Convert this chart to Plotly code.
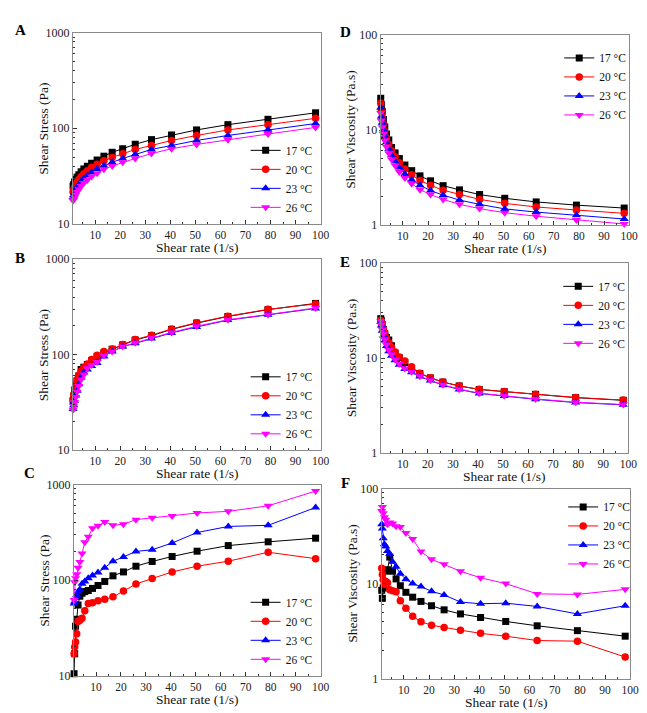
import plotly.graph_objects as go

W, H = 647, 713

# ---------------- data ----------------
shear_rate = [1.2, 1.45, 1.8, 2.25, 2.8, 3.5, 4.4, 5.5, 6.9, 8.6, 10.8, 13.5, 16.8,
              21, 26, 32.5, 40.5, 50.5, 63, 79, 98]
temps = ["17 °C", "20 °C", "23 °C", "26 °C"]

# Panel A: shear stress (Pa)
A_17 = [24.8, 25.7, 27.4, 29, 30.8, 32.6, 35, 37.5, 40, 43, 46.5, 51, 56, 61, 68, 76, 85, 96, 109, 124, 145]
A_20 = [21.5, 22.8, 24.2, 25.7, 27.3, 29, 31, 33.5, 36, 39, 42, 45.7, 49.5, 54, 60, 66, 74.5, 84, 96, 109, 127]
A_23 = [19, 20, 21.3, 22.7, 24.2, 25.8, 27.7, 29.8, 32, 34.5, 37.5, 40.6, 44, 48.3, 53, 60, 66, 74.5, 84, 96.5, 112]
A_26 = [17.5, 18, 19, 20.2, 21.5, 23, 24.8, 26.7, 28.8, 31.2, 33.9, 37.3, 40.3, 44, 48.3, 54.3, 61, 67.7, 76, 87, 102]

# Panel D: shear viscosity (Pa.s)
D_17 = [21.4, 18.3, 15.6, 12.8, 10.7, 9.0, 7.8, 6.5, 5.7, 4.97, 4.25, 3.71, 3.27, 2.90, 2.58, 2.33, 2.08, 1.90, 1.74, 1.61, 1.50]
D_20 = [19, 16, 13.5, 11.4, 9.6, 8.2, 7.0, 6.0, 5.2, 4.5, 3.86, 3.35, 2.93, 2.60, 2.31, 2.08, 1.85, 1.68, 1.54, 1.43, 1.32]
D_23 = [17, 13.8, 11.8, 10.1, 8.6, 7.4, 6.3, 5.4, 4.65, 4.0, 3.43, 2.97, 2.60, 2.29, 2.05, 1.82, 1.64, 1.47, 1.36, 1.26, 1.15]
D_26 = [15, 12.4, 10.6, 9.0, 7.7, 6.6, 5.65, 4.85, 4.2, 3.6, 3.10, 2.70, 2.34, 2.08, 1.85, 1.64, 1.48, 1.34, 1.23, 1.12, 1.02]

# Panel B: shear stress (Pa)
B_17 = [33, 37, 42, 47, 53, 60, 70, 74, 79, 87, 96, 104, 114, 126.5, 142.5, 158, 184, 214, 251, 296, 344]
B_20 = [34, 38, 44, 49, 55, 61, 67.5, 73, 80, 89, 98.5, 108, 115, 128, 144, 160, 186, 216, 253, 298, 340]
B_23 = [27, 29.5, 33, 37.5, 42, 49, 57.7, 65, 70, 76, 82, 96, 108, 121.6, 131.6, 148, 169, 195, 230, 261, 305]
B_26 = [26.5, 29, 32, 36, 41, 47, 55, 62, 72, 78, 84, 98, 108, 121.6, 133, 150, 171, 198, 232, 263, 308]

# Panel E: shear viscosity (Pa.s)
E_17 = [26, 24.7, 22.5, 20, 18, 16.5, 15.5, 13.5, 11.3, 10.1, 9.0, 7.8, 6.9, 6.2, 5.6, 5.1, 4.68, 4.43, 4.16, 3.84, 3.6]
E_20 = [25, 23.5, 22.3, 20.2, 18.3, 16.2, 14.5, 13.1, 11.6, 10.3, 9.3, 8.1, 6.95, 6.2, 5.6, 5.1, 4.7, 4.45, 4.18, 3.86, 3.62]
E_23 = [24, 22, 19.4, 17.3, 15.3, 13.4, 11.8, 10.6, 9.5, 8.5, 7.7, 7.1, 6.4, 5.8, 5.2, 4.68, 4.25, 3.99, 3.69, 3.41, 3.23]
E_26 = [24.5, 22.5, 20, 18, 15.7, 13.8, 12.2, 10.9, 9.7, 8.7, 7.8, 7.2, 6.45, 5.85, 5.25, 4.72, 4.28, 4.02, 3.72, 3.44, 3.25]

# Panel C: shear stress (Pa)
C_17 = [10.5, 17, 33, 39, 55, 68, 73, 76, 78, 82, 88, 97, 111, 122, 140, 157, 177, 201, 230, 252, 275]
C_20 = [17, 20, 22.5, 27.5, 37, 38, 40, 48, 57, 58, 61, 63, 67, 77, 91, 104, 122, 140, 158, 196, 168]
C_23 = [57, 60, 65, 70, 75, 80, 92, 97, 105, 112, 120, 135, 158, 175, 200, 208, 245, 315, 365, 375, 576]
C_26 = [62, 95, 105, 115, 135, 155, 190, 250, 285, 350, 370, 405, 375, 385, 430, 450, 470, 505, 525, 600, 855]

# Panel F: shear viscosity (Pa.s)
F_17 = [8.5, 7.0, 9.0, 10.5, 13.5, 14, 19, 13.5, 11.2, 9.5, 8.1, 7.2, 6.5, 5.85, 5.3, 4.8, 4.4, 4.0, 3.6, 3.2, 2.8]
F_20 = [14.5, 12.5, 11, 9.8, 10.5, 10.2, 8.6, 8.4, 8.2, 6.6, 5.5, 4.55, 3.97, 3.65, 3.45, 3.24, 3.0, 2.8, 2.52, 2.48, 1.69]
F_23 = [42, 38, 30, 26, 24.5, 22, 20.5, 17, 15, 12.7, 11.1, 10, 9.3, 8.3, 7.6, 6.4, 6.14, 6.23, 5.75, 4.8, 5.85]
F_26 = [58, 64, 55, 50, 47, 42, 44, 43, 40, 39.5, 34, 29.5, 21.7, 18, 16, 13.5, 11.5, 10, 7.8, 7.7, 8.7]

x_ticks = [10, 20, 30, 40, 50, 60, 70, 80, 90, 100]
stress_ticks = [10, 100, 1000]
visc_ticks = [1, 10, 100]

# ---------------- styling ----------------
colors = ["#000000", "#ff0000", "#0000ff", "#ff00ff"]
symbols = ["square", "circle", "triangle-up", "triangle-down"]
msizes = [7, 7.5, 8, 8]
FONT = "Liberation Serif, Times New Roman, serif"

# panels: (label, data, ylabel, is_stress, px box (x0,x1,y0,y1), legend placement (anchor, y, x))
panels = [
    ("A", [A_17, A_20, A_23, A_26], "Shear Stress (Pa)", True, (66, 317, 18, 213), ("bottom", 211, 241)),
    ("D", [D_17, D_20, D_23, D_26], "Shear Viscosity (Pa.s)", False, (378, 630, 20, 214), ("top", 29, 559)),
    ("B", [B_17, B_20, B_23, B_26], "Shear Stress (Pa)", True, (66, 317, 249, 444), ("bottom", 442, 241)),
    ("E", [E_17, E_20, E_23, E_26], "Shear Viscosity (Pa.s)", False, (378, 629, 253, 447), ("top", 262, 558)),
    ("C", [C_17, C_20, C_23, C_26], "Shear Stress (Pa)", True, (67, 317, 479, 674), ("bottom", 672, 241)),
    ("F", [F_17, F_20, F_23, F_26], "Shear Viscosity (Pa.s)", False, (379, 631, 483, 677), ("top", 487, 563)),
]

fig = go.Figure()
layout = dict(
    width=W, height=H, margin=dict(l=0, r=0, t=0, b=0),
    paper_bgcolor="white", plot_bgcolor="white",
    font=dict(family=FONT, color="#111111", size=11),
    showlegend=True,
)
annotations = []


def px2x(p):
    return p / W


def px2y(p):
    return 1 - p / H


for i, (label, series, ytitle, is_stress, box, leg) in enumerate(panels):
    n = i + 1
    sfx = "" if n == 1 else str(n)
    x0, x1, y0, y1 = box
    legname = "legend" + sfx
    for j in range(4):
        fig.add_trace(go.Scatter(
            x=shear_rate, y=series[j], mode="lines+markers", name=temps[j],
            xaxis="x" + sfx, yaxis="y" + sfx, legend=legname,
            line=dict(color=colors[j], width=1),
            marker=dict(symbol=symbols[j], size=msizes[j], color=colors[j], line=dict(width=0)),
            cliponaxis=False,
        ))
    yt = stress_ticks if is_stress else visc_ticks
    minor_vals = [m * d for d in yt[:-1] for m in range(2, 10)]
    layout["xaxis" + sfx] = dict(
        domain=[px2x(x0), px2x(x1)], anchor="y" + sfx, range=[1.2, 100],
        tickmode="array", tickvals=x_ticks, ticks="inside", ticklen=4, tickwidth=1,
        tickcolor="#333333", showline=True, linecolor="#8a8a8a", linewidth=1.4, mirror=True,
        showgrid=False, zeroline=False, tickfont=dict(family=FONT, size=11.5, color="#222222"),
        minor=dict(tickvals=[5, 15, 25, 35, 45, 55, 65, 75, 85, 95], ticks="inside",
                   ticklen=2, tickcolor="#333333", showgrid=False),
    )
    layout["yaxis" + sfx] = dict(
        domain=[px2y(y1), px2y(y0)], anchor="x" + sfx, type="log",
        range=[1, 3] if is_stress else [0, 2],
        tickmode="array", tickvals=yt, ticktext=[str(v) for v in yt],
        ticks="inside", ticklen=4, tickwidth=1, tickcolor="#333333",
        showline=True, linecolor="#8a8a8a", linewidth=1.4, mirror=True,
        showgrid=False, zeroline=False, tickfont=dict(family=FONT, size=12, color="#222222"),
        minor=dict(tickvals=minor_vals, ticks="inside", ticklen=2, tickcolor="#333333", showgrid=False),
    )
    # legend
    anchor, ly, lx = leg
    layout[legname] = dict(
        x=px2x(lx), y=px2y(ly), xanchor="left", yanchor=anchor,
        bgcolor="rgba(0,0,0,0)", borderwidth=0, itemwidth=30,
        font=dict(family=FONT, size=11.5, color="#111111"), tracegroupgap=0,
    )
    # axis titles
    annotations.append(dict(
        text="Shear rate (1/s)", xref="paper", yref="paper",
        x=px2x((x0 + x1) / 2), y=px2y(y1 + 24), xanchor="center", yanchor="middle",
        showarrow=False, font=dict(family=FONT, size=13.5, color="#111111"),
    ))
    annotations.append(dict(
        text=ytitle, xref="paper", yref="paper", textangle=-90,
        x=px2x(x0 - 30), y=px2y((y0 + y1) / 2), xanchor="center", yanchor="middle",
        showarrow=False, font=dict(family=FONT, size=13.5, color="#111111"),
    ))

# panel letters
letters = [("A", 13, 15), ("D", 342, 17), ("B", 12, 248), ("E", 342, 252), ("C", 22, 467), ("F", 342, 477)]
for t, lx, ly in letters:
    annotations.append(dict(
        text="<b>%s</b>" % t, xref="paper", yref="paper", x=px2x(lx), y=px2y(ly),
        xanchor="center", yanchor="middle", showarrow=False,
        font=dict(family=FONT, size=15, color="#000000"),
    ))

layout["annotations"] = annotations
fig.update_layout(**layout)
fig.write_html("out.html")
